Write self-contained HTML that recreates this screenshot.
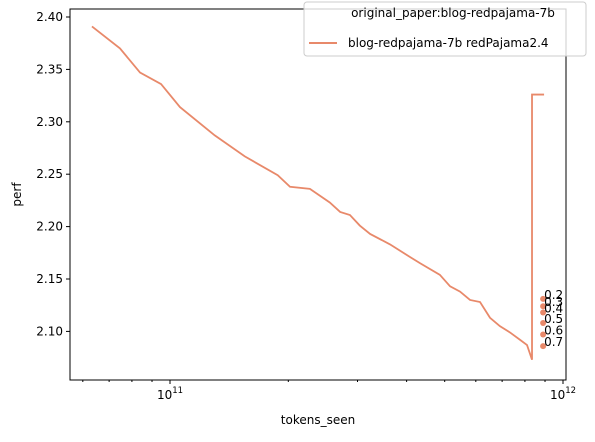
<!DOCTYPE html>
<html><head><meta charset="utf-8"><style>
body{margin:0;background:#fff;font-family:"Liberation Sans","DejaVu Sans",sans-serif}
svg text{font-family:"DejaVu Sans","Liberation Sans",sans-serif;font-size:12px}
</style></head><body>
<svg id="c" width="595" height="437" xmlns="http://www.w3.org/2000/svg"></svg>
<script>
const tokens=[6.33e10,7.46e10,8.39e10,9.49e10,1.06e11,1.30e11,1.55e11,1.88e11,2.02e11,2.27e11,2.55e11,2.71e11,2.87e11,3.04e11,3.23e11,3.63e11,4.08e11,4.33e11,4.86e11,5.16e11,5.47e11,5.80e11,6.15e11,6.52e11,6.91e11,7.33e11,7.77e11,8.10e11,8.34e11,8.34e11,8.95e11];
const perf=[2.391,2.370,2.347,2.336,2.314,2.287,2.267,2.249,2.238,2.236,2.223,2.214,2.211,2.201,2.193,2.183,2.171,2.165,2.154,2.143,2.138,2.130,2.128,2.113,2.105,2.099,2.092,2.087,2.073,2.326,2.326];
const ptLabels=["0.2","0.3","0.4","0.5","0.6","0.7"];
const ptTokens=[8.9e11,8.9e11,8.9e11,8.9e11,8.9e11,8.9e11];
const ptPerf=[2.131,2.124,2.118,2.108,2.097,2.086];
const yTicks=[2.10,2.15,2.20,2.25,2.30,2.35,2.40];
const L=70,R=566,T=9,B=380,C="#e8896a";
const x=t=>170+(Math.log10(t)-11)*393;
const y=v=>17+(2.40-v)/0.05*52.4;
const s=document.getElementById('c');const NS="http://www.w3.org/2000/svg";
function mk(tag,a,p){const e=document.createElementNS(NS,tag);for(const k in a)e.setAttribute(k,a[k]);(p||s).appendChild(e);return e;}
let e;
e=mk('rect',{x:L,y:T,width:R-L,height:B-T,fill:'none',stroke:'#000','stroke-width':1});


yTicks.forEach(v=>{const yy=y(v);mk('line',{x1:L-4,x2:L,y1:yy,y2:yy,stroke:'#000'});
e=mk('text',{x:L-7,y:yy+4,'text-anchor':'end'});e.textContent=v.toFixed(2);

});
for(let d=10;d<=11;d++)for(let m=1;m<10;m++){const t=m*Math.pow(10,d);const xx=x(t);if(xx<L||xx>R)continue;
mk('line',{x1:xx,x2:xx,y1:B,y2:B+(m==1?4:2),stroke:'#000'});}
[[1e11,"11"],[1e12,"12"]].forEach(([t,p])=>{const xx=x(t);mk('line',{x1:xx,x2:xx,y1:B,y2:B+4,stroke:'#000'});
e=mk('text',{x:xx,y:B+19,'text-anchor':'middle'});e.innerHTML='10<tspan dy="-6" font-size="8.5">'+p+'</tspan>';

});
e=mk('text',{x:(L+R)/2,y:424,'text-anchor':'middle'});e.textContent='tokens_seen';


e=mk('text',{x:21,y:(T+B)/2,'text-anchor':'middle',transform:`rotate(-90 21 ${(T+B)/2})`});e.textContent='perf';


e=mk('polyline',{points:tokens.map((t,i)=>x(t)+','+y(perf[i])).join(' '),fill:'none',stroke:C,'stroke-width':1.8});


ptTokens.forEach((t,i)=>{e=mk('circle',{cx:x(t),cy:y(ptPerf[i]),r:3,fill:C});


e=mk('text',{x:x(t)+1,y:y(ptPerf[i])});e.textContent=ptLabels[i];

});
const g=mk('g',{});


mk('rect',{x:304,y:2,width:282,height:54,rx:3,fill:'#fff','fill-opacity':0.8,stroke:'#ccc'},g);
e=mk('text',{x:453,y:17,'text-anchor':'middle'},g);e.textContent='original_paper:blog-redpajama-7b';


mk('line',{x1:309,x2:337,y1:43,y2:43,stroke:C,'stroke-width':2},g);
e=mk('text',{x:348,y:47},g);e.textContent='blog-redpajama-7b redPajama2.4';


</script>
</body></html>
